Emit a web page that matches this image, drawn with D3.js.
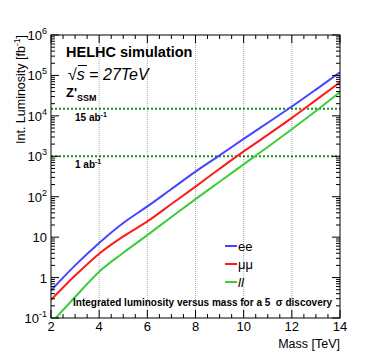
<!DOCTYPE html>
<html>
<head>
<meta charset="utf-8">
<script src="https://cdn.jsdelivr.net/npm/d3@7"></script>
<style>
  body { margin: 0; background: #fff; }
  text { font-family: "Liberation Sans", Arial, Helvetica, sans-serif; }
</style>
</head>
<body>
<div id="chart"></div>
<script>
// data (integrated luminosity in fb^-1)
const massEE = [2, 3, 4, 5, 6, 7, 8, 9, 10, 11, 12, 13, 14];
const lumiEE = [0.48, 2.0, 7.2, 22.4, 57.5, 155, 417, 1050, 2690, 6760, 17000, 44700, 120000];
const massMM = [2, 3, 4, 5, 6, 7, 8, 9, 10, 11, 12, 13, 14];
const lumiMM = [0.28, 1.12, 3.9, 10.4, 24.5, 66, 178, 490, 1320, 3390, 8900, 24500, 67600];
const massLL = [2.2, 3, 4, 5, 6, 7, 8, 9, 10, 11, 12, 13, 14];
const lumiLL = [0.1, 0.33, 1.4, 4.1, 11.2, 31.6, 87, 234, 631, 1700, 4680, 13200, 38900];

const seriesNames = ["ee", "\u03bc\u03bc", "ll"];
const seriesColors = ["#4545ff", "#ff1a1a", "#3ccc3c"];

const refLumi = [15000, 1000];
const refLabels = ["15 ab", "1 ab"];

const xTicks = [2, 4, 6, 8, 10, 12, 14];
const yTicks = [0.1, 1, 10, 100, 1000, 10000, 100000, 1000000];
const yTickLabels = [["10", "-1"], ["1", ""], ["10", ""], ["10", "2"], ["10", "3"], ["10", "4"], ["10", "5"], ["10", "6"]];

const width = 370, height = 354;
const margin = { top: 35, right: 30, bottom: 36, left: 51 };

const svg = d3.select("#chart").append("svg")
  .attr("width", width)
  .attr("height", height);

const x = d3.scaleLinear().domain([2, 14]).range([margin.left, width - margin.right]);
const y = d3.scaleLog().domain([0.1, 1e6]).range([height - margin.bottom, margin.top]);

const x0 = x.range()[0], x1 = x.range()[1];
const y0 = y.range()[0], y1 = y.range()[1];

svg.append("clipPath").attr("id", "clip")
  .append("rect").attr("x", x0).attr("y", y1).attr("width", x1 - x0).attr("height", y0 - y1);

// vertical grid
svg.append("g").selectAll("line")
  .data(xTicks.slice(1, -1))
  .join("line")
  .attr("x1", d => x(d)).attr("x2", d => x(d))
  .attr("y1", y0).attr("y2", y1)
  .attr("stroke", "#aaa")
  .attr("stroke-width", 1)
  .attr("stroke-dasharray", "1,1");

// reference luminosity lines
svg.append("g").selectAll("line")
  .data(refLumi)
  .join("line")
  .attr("x1", x0).attr("x2", x1)
  .attr("y1", d => y(d)).attr("y2", d => y(d))
  .attr("stroke", "#1a8a1a")
  .attr("stroke-width", 2)
  .attr("stroke-dasharray", "2,2");

refLabels.forEach((t, i) => {
  const tx = svg.append("text")
    .attr("x", 75).attr("y", y(refLumi[i]) + 12)
    .attr("font-size", 10).attr("font-weight", "bold")
    .text(t);
  tx.append("tspan").attr("dy", -4).attr("font-size", 7).text("-1");
});

// curves
const line = d3.line()
  .x(d => x(d[0]))
  .y(d => y(d[1]))
  .curve(d3.curveMonotoneX);

const series = [
  d3.zip(massEE, lumiEE),
  d3.zip(massMM, lumiMM),
  d3.zip(massLL, lumiLL)
];

svg.append("g").attr("clip-path", "url(#clip)")
  .selectAll("path")
  .data(series)
  .join("path")
  .attr("d", line)
  .attr("fill", "none")
  .attr("stroke", (d, i) => seriesColors[i])
  .attr("stroke-width", 2);

// frame
svg.append("rect")
  .attr("x", x0).attr("y", y1)
  .attr("width", x1 - x0).attr("height", y0 - y1)
  .attr("fill", "none").attr("stroke", "#000").attr("stroke-width", 1);

// x ticks (bottom and top, inside)
const xMinor = d3.range(2, 14.01, 0.5);
const tk = svg.append("g").attr("stroke", "#000").attr("stroke-width", 1);
xMinor.forEach(v => {
  const len = (v % 2 === 0) ? 8 : 4;
  tk.append("line").attr("x1", x(v)).attr("x2", x(v)).attr("y1", y0).attr("y2", y0 - len);
  tk.append("line").attr("x1", x(v)).attr("x2", x(v)).attr("y1", y1).attr("y2", y1 + len);
});

// y ticks (left and right, inside)
const yMinor = [];
for (let e = -1; e < 6; e++) for (let m = 1; m < 10; m++) yMinor.push(m * Math.pow(10, e));
yMinor.push(1e6);
yMinor.forEach(v => {
  const major = Math.abs(Math.log10(v) - Math.round(Math.log10(v))) < 1e-9;
  const len = major ? 8 : 4;
  tk.append("line").attr("x1", x0).attr("x2", x0 + len).attr("y1", y(v)).attr("y2", y(v));
  tk.append("line").attr("x1", x1).attr("x2", x1 - len).attr("y1", y(v)).attr("y2", y(v));
});

// x tick labels
svg.append("g").selectAll("text")
  .data(xTicks)
  .join("text")
  .attr("x", d => x(d)).attr("y", y0 + 13)
  .attr("text-anchor", "middle")
  .attr("font-size", 13)
  .text(d => d);

// y tick labels
yTicks.forEach((v, i) => {
  const t = svg.append("text")
    .attr("x", x0 - 4).attr("y", y(v) + 5)
    .attr("text-anchor", "end")
    .attr("font-size", 13);
  t.append("tspan").text(yTickLabels[i][0]);
  if (yTickLabels[i][1]) t.append("tspan").attr("dy", -6).attr("font-size", 9).text(yTickLabels[i][1]);
});

// axis titles
svg.append("text")
  .attr("x", x1).attr("y", height - 6)
  .attr("text-anchor", "end")
  .attr("font-size", 12.5)
  .text("Mass [TeV]");

const yt = svg.append("text")
  .attr("transform", `translate(25,${y1}) rotate(-90)`)
  .attr("text-anchor", "end")
  .attr("font-size", 12.5);
yt.append("tspan").text("Int. Luminosity [fb");
yt.append("tspan").attr("dy", -5).attr("font-size", 8.5).text("-1");
yt.append("tspan").attr("dy", 5).text("]");

// labels inside the plot
svg.append("text")
  .attr("x", 66).attr("y", 57)
  .attr("font-size", 14.5).attr("font-weight", "bold")
  .text("HELHC simulation");

const rs = svg.append("text").attr("x", 68).attr("y", 80).attr("font-size", 16);
rs.append("tspan").text("\u221a");
rs.append("tspan").attr("font-style", "italic").text("s");
rs.append("tspan").text(" = ");
rs.append("tspan").attr("font-style", "italic").text("27TeV");
svg.append("line")
  .attr("x1", 78).attr("x2", 87).attr("y1", 65.5).attr("y2", 65.5)
  .attr("stroke", "#000").attr("stroke-width", 1);

const zt = svg.append("text").attr("x", 66).attr("y", 97)
  .attr("font-size", 13).attr("font-weight", "bold");
zt.append("tspan").text("Z'");
zt.append("tspan").attr("dy", 4).attr("font-size", 9).text("SSM");

svg.append("text")
  .attr("x", 73).attr("y", 306)
  .attr("font-size", 10).attr("font-weight", "bold")
  .text("Integrated luminosity versus mass for a 5 \u00a0\u03c3 discovery");

// legend
const lg = svg.append("g").attr("transform", "translate(225,246)");
seriesNames.forEach((n, i) => {
  const g = lg.append("g").attr("transform", `translate(0,${i * 18})`);
  g.append("line").attr("x1", 0).attr("x2", 12).attr("y1", 0).attr("y2", 0)
    .attr("stroke", seriesColors[i]).attr("stroke-width", 2);
  g.append("text").attr("x", 13).attr("y", 5)
    .attr("font-size", 13)
    .attr("font-style", i === 2 ? "italic" : "normal")
    .text(n);
});
</script>
</body>
</html>
